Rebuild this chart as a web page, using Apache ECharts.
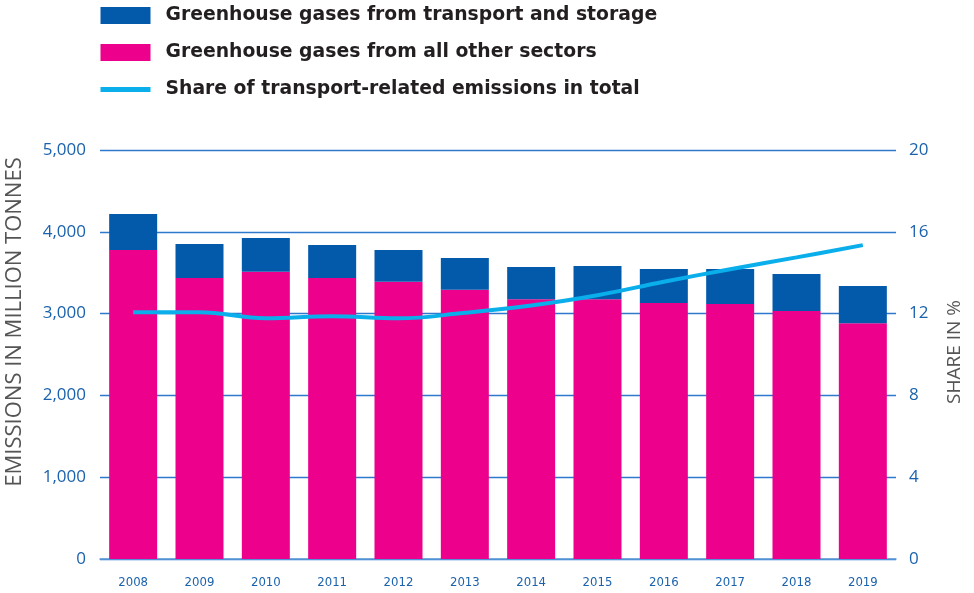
<!DOCTYPE html>
<html>
<head>
<meta charset="utf-8">
<script src="https://cdn.jsdelivr.net/npm/echarts@6/dist/echarts.min.js"></script>
<style>
  html, body { margin: 0; padding: 0; background: #fff; }
  #chart { width: 974px; height: 593px; }
</style>
</head>
<body>
<div id="chart"></div>
<script>
// values
const years = ['2008', '2009', '2010', '2011', '2012', '2013', '2014', '2015', '2016', '2017', '2018', '2019'];
const otherSectors = [3777, 3435, 3512, 3435, 3390, 3292, 3175, 3175, 3130, 3117, 3032, 2881];
const transport = [441, 416, 412, 404, 388, 388, 395, 407, 415, 428, 452, 456];
const shareTransport = [12.06, 12.06, 11.77, 11.87, 11.77, 12.04, 12.4, 12.9, 13.56, 14.17, 14.75, 15.35];
const leftTicks = [0, 1000, 2000, 3000, 4000, 5000];

const NAME_TRANSPORT = 'Greenhouse gases from transport and storage';
const NAME_OTHER = 'Greenhouse gases from all other sectors';
const NAME_SHARE = 'Share of transport-related emissions in total';

const blue = '#035aab';
const pink = '#ec008c';
const cyan = '#0aaeea';
const labelBlue = '#1b62ad';
const nameGray = '#555';

const chart = echarts.init(document.getElementById('chart'));

chart.setOption({
  animation: false,
  legend: {
    orient: 'vertical',
    left: 93,
    top: 1,
    itemWidth: 50,
    itemHeight: 17,
    itemGap: 18,
    textStyle: { fontFamily: 'DejaVu Sans', fontWeight: 'bold', fontSize: 18.8, color: '#231f20', padding: [0, 0, 0, 10] },
    data: [
      { name: NAME_TRANSPORT, icon: 'rect' },
      { name: NAME_OTHER, icon: 'rect' },
      // line icon only, hide the marker dot
      { name: NAME_SHARE, lineStyle: { width: 5 }, itemStyle: { opacity: 0 } }
    ]
  },
  // axis titles placed by hand, they sit off-centre in the reference
  graphic: [
    {
      type: 'text',
      x: 15, y: 322,
      rotation: Math.PI / 2,
      style: {
        text: 'EMISSIONS IN MILLION TONNES',
        fill: nameGray, font: '22px "Open Sans"',
        align: 'center', verticalAlign: 'middle'
      }
    },
    {
      type: 'text',
      x: 955, y: 352,
      rotation: Math.PI / 2,
      style: {
        text: 'SHARE IN %',
        fill: nameGray, font: '19px "Open Sans"',
        align: 'center', verticalAlign: 'middle'
      }
    }
  ],
  grid: { left: 100, right: 78, top: 150, bottom: 34 },
  xAxis: {
    type: 'category',
    data: years,
    axisLine: { lineStyle: { color: '#5d9bd6', width: 1.5 } },
    axisTick: { show: false },
    axisLabel: { color: labelBlue, fontFamily: 'DejaVu Sans Condensed', fontSize: 13, margin: 17 }
  },
  yAxis: [
    {
      type: 'value',
      min: leftTicks[0],
      max: leftTicks[leftTicks.length - 1],
      interval: 1000,
      axisLine: { show: false },
      axisTick: { show: false },
      axisLabel: {
        color: labelBlue, fontFamily: 'Open Sans', fontSize: 17, margin: 14,
        formatter: v => v.toLocaleString('en-US')
      },
      splitLine: { lineStyle: { color: '#2f79cc', width: 1.3 } }
    },
    {
      type: 'value',
      min: 0,
      max: 20,
      interval: 4,
      axisLine: { show: false },
      axisTick: { show: false },
      axisLabel: { color: labelBlue, fontFamily: 'Open Sans', fontSize: 17, margin: 13 },
      splitLine: { show: false }
    }
  ],
  series: [
    {
      name: NAME_OTHER,
      type: 'bar',
      stack: 'total',
      barWidth: 48,
      itemStyle: { color: pink },
      data: otherSectors
    },
    {
      name: NAME_TRANSPORT,
      type: 'bar',
      stack: 'total',
      barWidth: 48,
      itemStyle: { color: blue },
      data: transport
    },
    {
      name: NAME_SHARE,
      type: 'line',
      yAxisIndex: 1,
      smooth: 0.4,
      symbol: 'none',
      lineStyle: { color: cyan, width: 4 },
      itemStyle: { color: cyan },
      data: shareTransport,
      z: 5
    }
  ]
});
</script>
</body>
</html>
